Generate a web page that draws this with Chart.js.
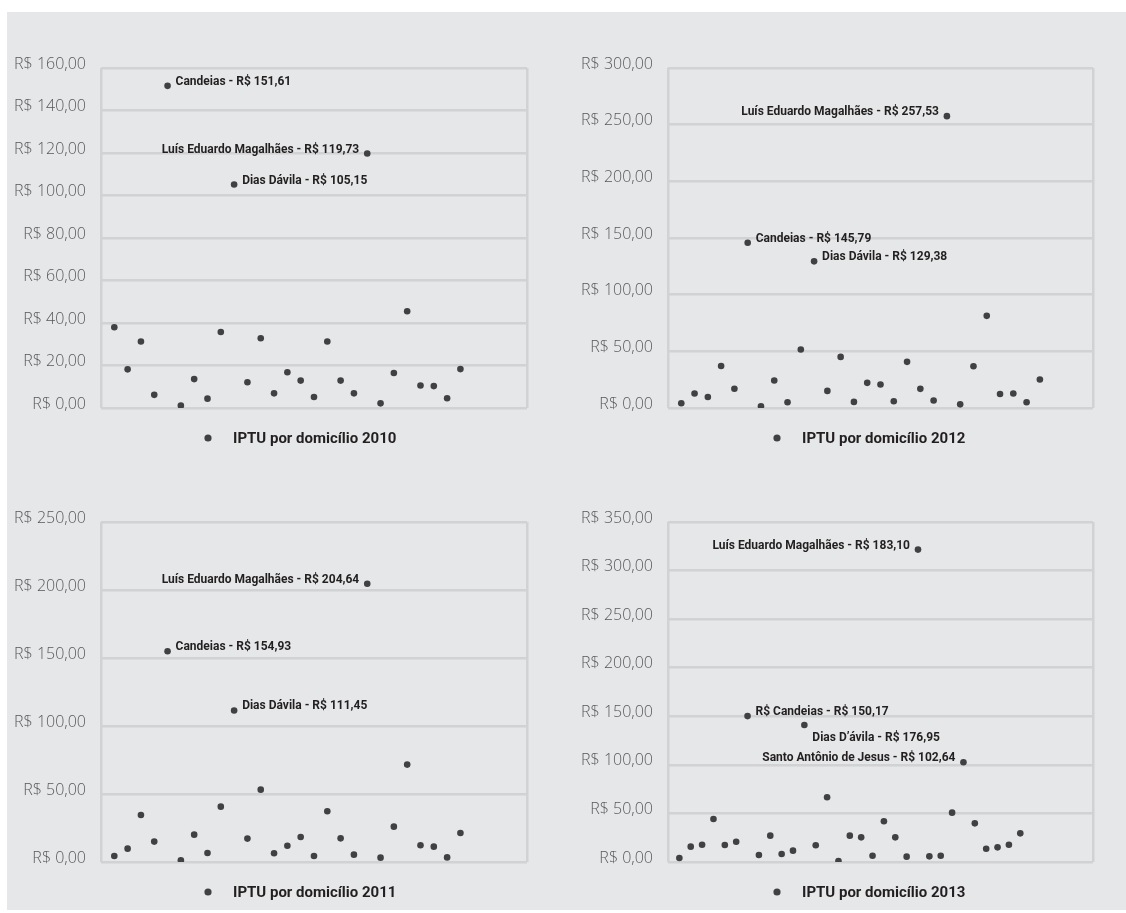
<!DOCTYPE html>
<html><head><meta charset="utf-8">
<script src="https://cdn.jsdelivr.net/npm/chart.js@4"></script>
<style>
html,body{margin:0;padding:0;background:#fff;width:1126px;height:913px;overflow:hidden}
#fundo{position:absolute;left:7px;top:12px;width:1119px;height:898px;background:#e6e7e8}
.painel{position:absolute}
</style></head><body>
<div id="fundo"></div>
<div class="painel" style="left:7px;top:12px;width:556px;height:448px"><canvas id="c2010"></canvas></div>
<div class="painel" style="left:563px;top:12px;width:563px;height:448px"><canvas id="c2012"></canvas></div>
<div class="painel" style="left:7px;top:460px;width:556px;height:450px"><canvas id="c2011"></canvas></div>
<div class="painel" style="left:563px;top:460px;width:563px;height:450px"><canvas id="c2013"></canvas></div>
<script>
// ---- dados ----
const serie2010 = 'IPTU por domicílio 2010';
const serie2011 = 'IPTU por domicílio 2011';
const serie2012 = 'IPTU por domicílio 2012';
const serie2013 = 'IPTU por domicílio 2013';

const iptu2010 = [38.0, 18.2, 31.3, 6.2, 151.61, 1.1, 13.6, 4.4, 35.8, 105.15, 12.1, 32.8, 6.9, 16.8, 12.9, 5.2, 31.3, 12.9, 6.9, 119.73, 2.2, 16.5, 45.5, 10.6, 10.3, 4.6, 18.3];
const iptu2011 = [4.4, 9.8, 34.6, 15.0, 154.93, 1.2, 20.1, 6.6, 40.7, 111.45, 17.2, 53.2, 6.4, 12.0, 18.4, 4.4, 37.3, 17.4, 5.4, 204.64, 3.2, 26.0, 71.6, 12.3, 11.3, 3.4, 21.3];
const iptu2012 = [4.2, 12.8, 9.7, 37.0, 17.0, 145.79, 1.6, 24.2, 5.1, 51.6, 129.38, 15.1, 45.1, 5.4, 22.2, 20.7, 6.0, 40.7, 16.9, 6.6, 257.53, 3.2, 36.9, 81.3, 12.3, 12.8, 5.1, 25.1];
const iptu2013 = [4.1, 15.8, 17.8, 44.3, 17.5, 20.9, 150.17, 7.2, 27.1, 8.2, 11.7, 141.0, 17.2, 66.6, 1.0, 27.1, 25.4, 6.5, 41.9, 25.4, 5.5, 321.6, 5.8, 6.5, 50.8, 102.64, 39.8, 13.7, 15.1, 17.8, 29.5];

// rótulos de destaque (posição do município na série, texto)
const destaqueIdx2010 = [5, 20, 10];
const destaqueTxt2010 = ['Candeias - R$ 151,61', 'Luís Eduardo Magalhães - R$ 119,73', 'Dias Dávila - R$ 105,15'];
const destaqueIdx2011 = [20, 5, 10];
const destaqueTxt2011 = ['Luís Eduardo Magalhães - R$ 204,64', 'Candeias - R$ 154,93', 'Dias Dávila - R$ 111,45'];
const destaqueIdx2012 = [21, 6, 11];
const destaqueTxt2012 = ['Luís Eduardo Magalhães - R$ 257,53', 'Candeias - R$ 145,79', 'Dias Dávila - R$ 129,38'];
const destaqueIdx2013 = [22, 7, 12, 26];
const destaqueTxt2013 = ['Luís Eduardo Magalhães - R$ 183,10', 'R$ Candeias - R$ 150,17', 'Dias D’ávila - R$ 176,95', 'Santo Antônio de Jesus - R$ 102,64'];

// escalas
const yMax = {2010: 160, 2011: 250, 2012: 300, 2013: 350};
const yPasso = {2010: 20, 2011: 50, 2012: 50, 2013: 50};
const xMax = {2010: 32, 2011: 32, 2012: 32, 2013: 37.4};

// ---- estilos / posicionamento ----
const posRotulo = {
  2010: [['right', -4], ['left', -4], ['right', -4]],
  2011: [['left', -4], ['right', -4], ['right', -4]],
  2012: [['left', -4.5], ['right', -4], ['right', -4]],
  2013: [['left', -4], ['right', -4], ['right', 13], ['left', -4.5]]
};
const GRADE = '#d1d2d4';
const PONTO = '#414042';
const TEXTO = '#231f20';

const pluginRotulos = {
  id: 'rotulos',
  afterDatasetsDraw(chart, args, opts) {
    const meta = chart.getDatasetMeta(0);
    const ctx = chart.ctx;
    ctx.save();
    ctx.font = 'bold 12px Roboto';
    ctx.fillStyle = TEXTO;
    ctx.textBaseline = 'middle';
    opts.idx.forEach((ix, k) => {
      const el = meta.data[ix - 1];
      const [lado, dy] = opts.pos[k];
      if (lado === 'right') { ctx.textAlign = 'left'; ctx.fillText(opts.txt[k], el.x + 8, el.y + dy); }
      else { ctx.textAlign = 'right'; ctx.fillText(opts.txt[k], el.x - 8, el.y + dy); }
    });
    ctx.restore();
  }
};

const pluginLegenda = {
  id: 'legenda',
  afterDraw(chart, args, opts) {
    const ctx = chart.ctx;
    const a = chart.chartArea;
    const ds = chart.data.datasets[0];
    const mx = a.left + opts.dx, my = a.bottom + 30;
    ctx.save();
    ctx.fillStyle = ds.backgroundColor;
    ctx.beginPath(); ctx.arc(mx, my, 3.6, 0, Math.PI * 2); ctx.fill();
    ctx.fillStyle = TEXTO;
    ctx.font = 'bold 15px Roboto';
    ctx.textAlign = 'left'; ctx.textBaseline = 'middle';
    ctx.fillText(ds.label, mx + 25, my + 1);
    ctx.restore();
  }
};

function grafico(id, ano, serie, valores, idx, txt, lay) {
  const pontos = valores.map((v, i) => ({x: i + 1, y: v}));
  return new Chart(document.getElementById(id), {
    type: 'scatter',
    data: {datasets: [{label: serie, data: pontos, backgroundColor: PONTO, borderWidth: 0, pointRadius: 3.3, pointHoverRadius: 3.3}]},
    plugins: [pluginRotulos, pluginLegenda],
    options: {
      responsive: true, maintainAspectRatio: false, animation: false,
      layout: {padding: {left: 0, right: lay.right, top: lay.top, bottom: lay.bottom}},
      plugins: {
        legend: {display: false}, tooltip: {enabled: false},
        rotulos: {idx: idx, txt: txt, pos: posRotulo[ano]},
        legenda: {dx: lay.legDx}
      },
      scales: {
        x: {
          type: 'linear', min: 0, max: xMax[ano],
          afterBuildTicks: s => { s.ticks = [{value: s.min}, {value: s.max}]; },
          ticks: {display: false},
          grid: {color: GRADE, lineWidth: 2.5, drawTicks: false},
          border: {display: false}
        },
        y: {
          min: 0, max: yMax[ano],
          afterFit: s => { s.width = lay.yw; },
          ticks: {
            stepSize: yPasso[ano], padding: 15, labelOffset: -4,
            color: '#58595b', font: {family: 'Open Sans', size: 16, weight: 300},
            callback: v => 'R$ ' + Number(v).toFixed(2).replace('.', ',')
          },
          grid: {color: GRADE, lineWidth: 2.5, drawTicks: false},
          border: {display: false}
        }
      }
    }
  });
}

grafico('c2010', 2010, serie2010, iptu2010, destaqueIdx2010, destaqueTxt2010, {yw: 94, right: 36, top: 56, bottom: 52, legDx: 107});
grafico('c2012', 2012, serie2012, iptu2012, destaqueIdx2012, destaqueTxt2012, {yw: 105, right: 33, top: 56, bottom: 52, legDx: 109});
grafico('c2011', 2011, serie2011, iptu2011, destaqueIdx2011, destaqueTxt2011, {yw: 94, right: 36, top: 62, bottom: 48, legDx: 107});
grafico('c2013', 2013, serie2013, iptu2013, destaqueIdx2013, destaqueTxt2013, {yw: 105, right: 33, top: 62, bottom: 48, legDx: 109});
</script>
</body></html>
